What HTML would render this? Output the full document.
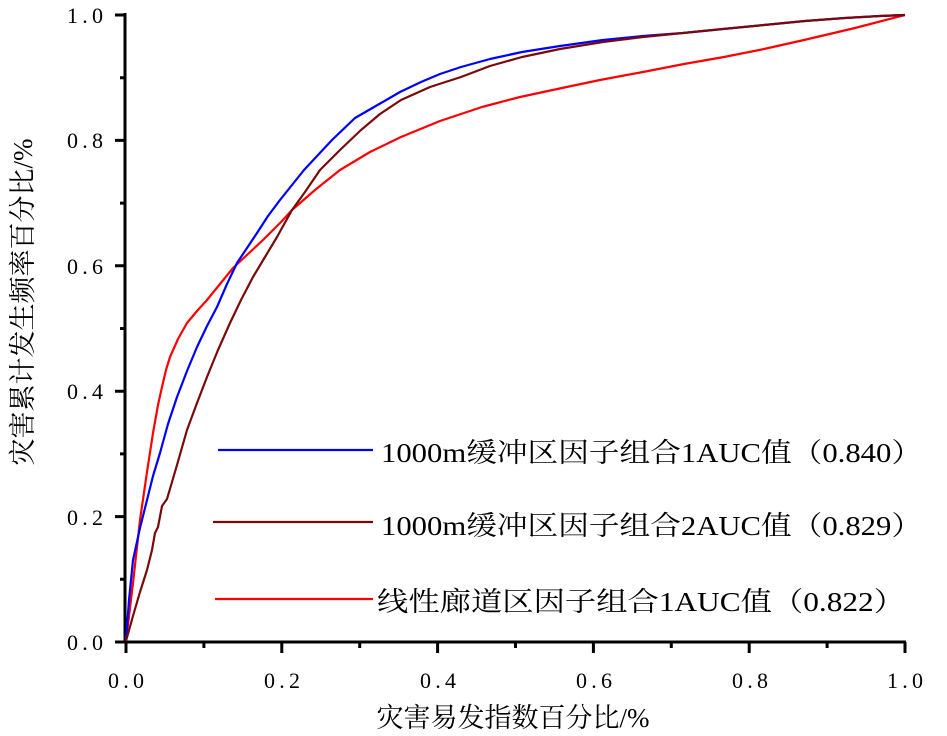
<!DOCTYPE html><html><head><meta charset="utf-8"><style>body{margin:0;background:#fff}svg{display:block}text{font-family:"Liberation Serif","Noto Serif CJK SC",serif;fill:#000}</style></head><body>
<svg width="947" height="736" viewBox="0 0 947 736" xmlns="http://www.w3.org/2000/svg">
<g stroke="#000" stroke-width="3" fill="none">
<line x1="125" y1="13" x2="125" y2="643"/><line x1="124" y1="642" x2="906" y2="642"/>
<path d="M115 642h10M115 516.6h10M115 391.2h10M115 265.8h10M115 140.4h10M115 15h10M120 579.3h5M120 453.9h5M120 328.5h5M120 203.1h5M120 77.7h5"/>
<path d="M126 642v11M281.8 642v11M437.6 642v11M593.4 642v11M749.2 642v11M905 642v11M203.9 642v6M359.7 642v6M515.5 642v6M671.3 642v6M827.1 642v6"/>
</g>
<g font-size="22" text-anchor="middle">
<text x="126" y="688" textLength="36">0.0</text><text x="282" y="688" textLength="36">0.2</text><text x="438" y="688" textLength="36">0.4</text><text x="594" y="688" textLength="36">0.6</text><text x="750" y="688" textLength="36">0.8</text><text x="905" y="688" textLength="36">1.0</text>
</g>
<g font-size="22" text-anchor="end">
<text x="103" y="650" textLength="36">0.0</text><text x="103" y="525" textLength="36">0.2</text><text x="103" y="399" textLength="36">0.4</text><text x="103" y="274" textLength="36">0.6</text><text x="103" y="148" textLength="36">0.8</text><text x="103" y="23" textLength="36">1.0</text>
</g>
<text x="513" y="727" font-size="27" text-anchor="middle">灾害易发指数百分比/%</text>
<text transform="translate(32,302) rotate(-90)" font-size="27" text-anchor="middle">灾害累计发生频率百分比/%</text>
<g fill="none" stroke-width="2.2" stroke-linejoin="round">
<path stroke="#ff0000" d="M126 641L133 583L140 520L147 472L153 433L158 405L162 387L166 370L170 357L178 339L187 323L197 311L207 300L220 284L233 268L248 254L263 240L282 221L292 210L315 190L340 170L370 152L401 137L440 121L482 107L520 97L562 88L600 80L643 72L684 64L724 57L764 49L804 40L855 28L905 15"/>
<path stroke="#0000ff" d="M126 641L129 600L133 560L140 528L147 500L153 476L160 453L168 424L177 397L187 371L197 347L207 326L217 307L227 284L237 263L247 248L257 233L268 216L280 200L292 185L304 170L318 155L332 140L355 118L381 103L400 92L421 82L440 74L461 67L490 59L522 52L560 46L603 40L643 36L683 33L723 29L764 25L805 21L845 18L880 16L905 15"/>
<path stroke="#7a0a0a" d="M126 641L133 616L140 592L147 570L152 550L155 533L158 527L162 506L167 499L177 465L187 430L197 403L207 377L218 350L230 323L241 300L253 277L265 257L277 237L292 210L305 192L320 170L340 150L361 130L380 114L401 100L430 87L461 77L490 66L522 57L560 49L603 42L643 37L683 33L723 29L764 25L805 21L845 18L880 16L905 15"/>
</g>
<g stroke-width="2.2"><line x1="218" y1="450" x2="373" y2="450" stroke="#0000ff"/><line x1="213" y1="522" x2="373" y2="522" stroke="#7a0a0a"/><line x1="215" y1="599" x2="373" y2="599" stroke="#ff0000"/></g>
<g font-size="27">
<text x="381" y="462" textLength="541" lengthAdjust="spacingAndGlyphs">1000m缓冲区因子组合1AUC值（0.840）</text>
<text x="381" y="535" textLength="541" lengthAdjust="spacingAndGlyphs">1000m缓冲区因子组合2AUC值（0.829）</text>
<text x="377" y="611" textLength="528" lengthAdjust="spacingAndGlyphs">线性廊道区因子组合1AUC值（0.822）</text>
</g>
</svg></body></html>
